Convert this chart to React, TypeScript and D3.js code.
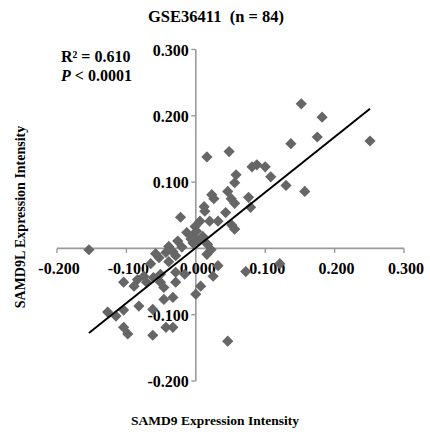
import React from "react";
import * as d3 from "d3";

const xValues = [
  0.152, 0.182, 0.175, 0.137, 0.251, 0.157, 0.130, 0.108, 0.081, 0.088,
  0.100, 0.048, 0.016, 0.058, 0.056, 0.046, 0.051, 0.056, 0.076, 0.079,
  0.023, 0.026, 0.012, 0.013, 0.043, 0.020, 0.032, 0.052, 0.056, -0.001,
  0.001, -0.004, 0.003, -0.004, -0.022, -0.013, 0.017, 0.016, 0.032, 0.025,
  0.007, 0.000, 0.046, 0.072, 0.121, -0.016, -0.154, -0.058, -0.039, -0.033,
  -0.026, -0.029, -0.065, -0.020, 0.010, -0.075, -0.084, -0.104, -0.089, -0.061,
  -0.051, -0.046, -0.029, -0.046, -0.033, -0.082, -0.062, -0.127, -0.115, -0.104,
  -0.104, -0.098, -0.062, -0.043, -0.033, -0.051, -0.029, -0.043, -0.071, -0.007,
  -0.053, -0.039, 0.022, 0.006,
];
const yValues = [
  0.218, 0.198, 0.168, 0.158, 0.162, 0.086, 0.095, 0.108, 0.123, 0.126,
  0.123, 0.146, 0.138, 0.111, 0.099, 0.086, 0.075, 0.068, 0.077, 0.062,
  0.081, 0.075, 0.063, 0.056, 0.054, 0.041, 0.041, 0.035, 0.029, 0.033,
  0.026, 0.018, 0.011, 0.008, 0.047, 0.024, 0.006, -0.009, -0.026, -0.042,
  -0.057, -0.069, -0.140, -0.035, -0.023, -0.039, -0.002, -0.008, 0.003, -0.005,
  0.011, -0.011, -0.023, 0.002, 0.018, -0.042, -0.047, -0.051, -0.057, -0.044,
  -0.051, -0.059, -0.051, -0.077, -0.074, -0.087, -0.092, -0.096, -0.102, -0.093,
  -0.119, -0.129, -0.131, -0.119, -0.119, -0.039, -0.036, -0.006, -0.051, 0.014,
  -0.014, -0.020, -0.002, 0.041,
];
const xTicks = [-0.2, -0.1, 0.0, 0.1, 0.2, 0.3];
const yTicks = [-0.2, -0.1, 0.0, 0.1, 0.2, 0.3];
const trendX = [-0.154, 0.251];
const trendSlope = 0.835;
const trendIntercept = 0.001;

const FONT = "'Liberation Serif', 'Times New Roman', serif";

export default function App() {
  const W = 430, H = 434;
  const x = d3.scaleLinear().domain([-0.2, 0.3]).range([57, 404]);
  const y = d3.scaleLinear().domain([-0.2, 0.3]).range([381, 49.5]);
  const x0 = x(0), y0 = y(0);
  const fmt = (v: number) => d3.format(".3f")(v).replace("\u2212", "-");
  const line = d3.line<number>().x((d) => x(d)).y((d) => y(trendSlope * d + trendIntercept));
  const diamond = (cx: number, cy: number, r: number) =>
    `M${cx},${cy - r}L${cx + r},${cy}L${cx},${cy + r}L${cx - r},${cy}Z`;
  const axisColor = "#9a9a9a";
  return (
    <svg width={W} height={H} style={{ position: "absolute", left: 0, top: 0 }} fontFamily={FONT}>
      <rect width={W} height={H} fill="#fff" />
      <text x={216} y={22} textAnchor="middle" fontSize={16.5} fontWeight="bold">
        GSE36411{"\u00a0\u00a0"}(n = 84)
      </text>
      <text x={61} y={62} fontSize={16} fontWeight="bold">R² = 0.610</text>
      <text x={61} y={81} fontSize={16} fontWeight="bold">
        <tspan fontStyle="italic">P</tspan> &lt; 0.0001
      </text>
      {/* axes */}
      <line x1={x(-0.2)} x2={x(0.3)} y1={y0} y2={y0} stroke={axisColor} strokeWidth={1.6} />
      <line x1={x0} x2={x0} y1={y(0.3)} y2={y(-0.2)} stroke={axisColor} strokeWidth={1.6} />
      {xTicks.map((t) => (
        <g key={"xt" + t}>
          {t !== 0 && <line x1={x(t)} x2={x(t)} y1={y0} y2={y0 + 4.5} stroke={axisColor} strokeWidth={1.4} />}
          <text x={x(t) + 2} y={y0 + 26} textAnchor="middle" fontSize={16} fontWeight="bold">
            {fmt(t)}
          </text>
        </g>
      ))}
      {yTicks.map((t) => (
        <g key={"yt" + t}>
          {t !== 0 && <line x1={x0 - 4.5} x2={x0} y1={y(t)} y2={y(t)} stroke={axisColor} strokeWidth={1.4} />}
          {t !== 0 && (
            <text x={x0 - 7} y={y(t) + 6} textAnchor="end" fontSize={16} fontWeight="bold">
              {fmt(t)}
            </text>
          )}
        </g>
      ))}
      {/* points */}
      {xValues.map((xv, i) => (
        <path key={"p" + i} d={diamond(x(xv), y(yValues[i]), 5.6)} fill="#666666" />
      ))}
      {/* trend line */}
      <path d={line(trendX) || ""} stroke="#000" strokeWidth={2} fill="none" />
      {/* axis titles */}
      <text x={215} y={425} textAnchor="middle" fontSize={13.5} fontWeight="bold">
        SAMD9 Expression Intensity
      </text>
      <text
        transform={`translate(25,217) rotate(-90)`}
        textAnchor="middle"
        fontSize={14}
        fontWeight="bold"
      >
        SAMD9L Expression Intensity
      </text>
    </svg>
  );
}
